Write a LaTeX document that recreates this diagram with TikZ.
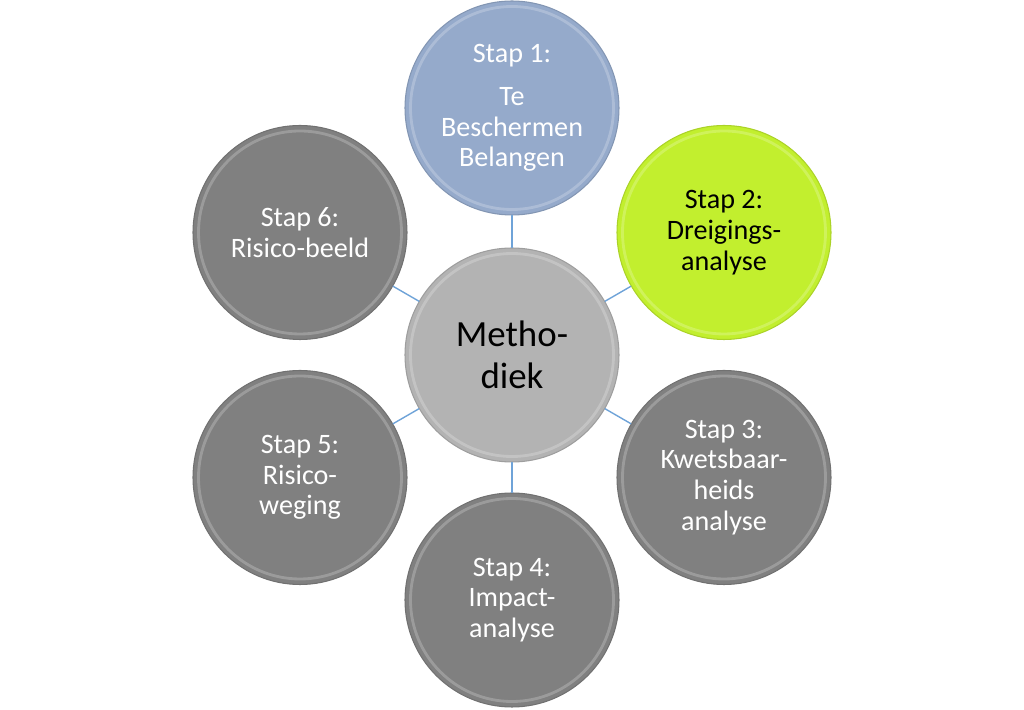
\documentclass[tikz,border=0pt]{standalone}
\usepackage{fontspec}
\setmainfont{Carlito}
\definecolor{stapblauw}{HTML}{95AACB}
\definecolor{stapgroen}{HTML}{C2EF2E}
\definecolor{stapgrijs}{HTML}{808080}
\definecolor{middengrijs}{HTML}{B3B3B3}
\definecolor{lijnblauw}{HTML}{6FA3D8}
\begin{document}
\begin{tikzpicture}[line join=round,line cap=round,
	stap/.style={circle,minimum size=4.28cm,inner sep=0pt,align=center,
		fill=#1,draw=#1!88!black,line width=0.6pt,
		path picture={\draw[white,opacity=0.22,line width=1.6pt] (path picture bounding box.center) circle (2.03cm);},
		font=\fontsize{16}{17.5}\selectfont},
	verbind/.style={draw=lijnblauw,line width=0.8pt}]
	\useasboundingbox (0,0) rectangle (20.48,14.2);
	\node[stap=middengrijs,font=\fontsize{21}{24}\selectfont] (M) at (10.24,7.1) {Metho-\\diek};
	\node[stap=stapblauw,text=white] (S1) at (10.24,12.04) {Stap 1:\\[7pt]Te\\Beschermen\\Belangen};
	\node[stap=stapgroen] (S2) at (14.48,9.55) {Stap 2:\\Dreigings-\\analyse};
	\node[stap=stapgrijs,text=white] (S3) at (14.48,4.65) {Stap 3:\\Kwetsbaar-\\heids\\analyse};
	\node[stap=stapgrijs,text=white] (S4) at (10.24,2.2) {Stap 4:\\Impact-\\analyse};
	\node[stap=stapgrijs,text=white] (S5) at (6.0,4.65) {Stap 5:\\Risico-\\weging};
	\node[stap=stapgrijs,text=white] (S6) at (6.0,9.55) {Stap 6:\\Risico-beeld};
	\foreach \s in {S1,S2,S3,S4,S5,S6}
		\draw[verbind] (M) -- (\s);
\end{tikzpicture}
\end{document}
